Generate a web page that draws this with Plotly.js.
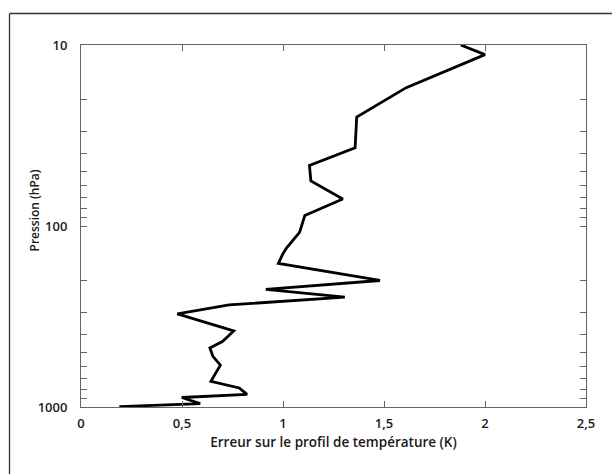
<!DOCTYPE html>
<html>
<head>
<meta charset="utf-8">
<script src="https://cdn.plot.ly/plotly-3.0.1.min.js"></script>
<style>html,body{margin:0;padding:0;background:#fff;overflow:hidden;}#chart{width:612px;height:474px;}</style>
</head>
<body>
<div id="chart"></div>
<script>
// Pressure levels (hPa) and temperature-profile error (K)
var pressure = [10, 11.3, 17.2, 25.0, 37.0, 46.3, 56.4, 71.0, 87.5, 108.5, 131, 142, 161, 200, 224, 247, 273, 306, 380, 435, 472, 525, 587, 722, 785, 851, 886, 958, 995];
var errorK   = [1.88, 2.00, 1.61, 1.365, 1.357, 1.131, 1.138, 1.296, 1.108, 1.082, 1.02, 1.0, 0.977, 1.48, 0.915, 1.306, 0.733, 0.477, 0.756, 0.70, 0.638, 0.653, 0.69, 0.643, 0.783, 0.822, 0.499, 0.59, 0.19];

var xTickVals = [0, 0.5, 1, 1.5, 2, 2.5];
var xTickText = ['0', '0,5', '1', '1,5', '2', '2,5'];
var yTickVals = [10,20,30,40,50,60,70,80,90,100,200,300,400,500,600,700,800,900,1000];
var yTickText = ['10','','','','','','','','','100','','','','','','','','','1000'];

var xTitle = 'Erreur sur le profil de température (K)';
var yTitle = 'Pression (hPa)';

var tickFont = {family: 'Open Sans, sans-serif', size: 13, color: '#1a1a1a', weight: 600};
var xTitleFont = {family: 'Open Sans, sans-serif', size: 13.5, color: '#1a1a1a', weight: 600};
var yTitleFont = {family: 'Open Sans, sans-serif', size: 12, color: '#1a1a1a', weight: 600};
var axisCol = '#666666';

var trace = {
  x: errorK, y: pressure, type: 'scatter', mode: 'lines',
  line: {color: '#000000', width: 2.8},
  hoverinfo: 'skip', showlegend: false
};

var W = 612, H = 474, L = 81, R = 26, T = 45, B = 67;
var pw = W - L - R, ph = H - T - B;
function px(x){ return (x - L) / pw; }
function py(y){ return (H - B - y) / ph; }

var frameLine = {color: '#333333', width: 1.3};

var layout = {
  width: W, height: H,
  margin: {l: L, r: R, t: T, b: B, pad: 0},
  paper_bgcolor: '#ffffff', plot_bgcolor: '#ffffff',
  font: tickFont,
  showlegend: false,
  xaxis: {
    range: [0, 2.5], tickvals: xTickVals, ticktext: xTickText,
    ticks: 'inside', ticklen: 6, tickwidth: 1, tickcolor: axisCol,
    showline: true, linecolor: axisCol, linewidth: 1, mirror: 'ticks',
    showgrid: false, zeroline: false,
    ticklabelstandoff: 4,
    tickfont: tickFont,
    title: {text: xTitle, font: xTitleFont, standoff: 6}
  },
  yaxis: {
    type: 'log', range: [3, 1],
    tickvals: yTickVals, ticktext: yTickText,
    ticks: 'inside', ticklen: 6, tickwidth: 1, tickcolor: axisCol,
    showline: true, linecolor: axisCol, linewidth: 1, mirror: 'ticks',
    showgrid: false, zeroline: false,
    ticklabelstandoff: 10,
    tickfont: tickFont
  },
  annotations: [{
    text: yTitle, xref: 'paper', yref: 'paper',
    x: px(33.5), y: py(211), textangle: -90,
    showarrow: false, font: yTitleFont, xanchor: 'center', yanchor: 'middle'
  }],
  shapes: [
    {type: 'line', xref: 'paper', yref: 'paper', x0: px(9.5), x1: px(640), y0: py(13.5), y1: py(13.5), line: frameLine, layer: 'below'},
    {type: 'line', xref: 'paper', yref: 'paper', x0: px(9.5), x1: px(9.5), y0: py(13.5), y1: py(500), line: frameLine, layer: 'below'}
  ]
};

Plotly.newPlot('chart', [trace], layout, {displayModeBar: false, staticPlot: true});
</script>
</body>
</html>
